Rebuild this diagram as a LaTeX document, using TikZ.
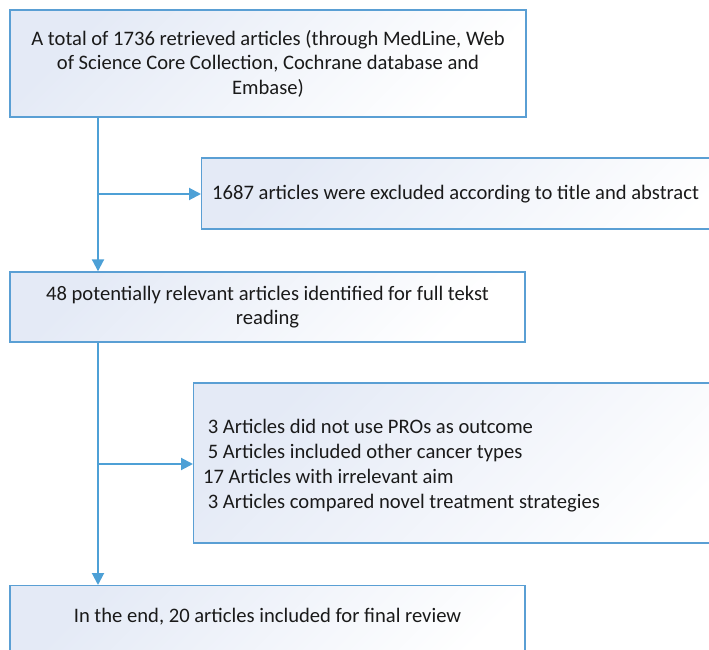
\documentclass[tikz,border=0pt]{standalone}
\usepackage{fontspec}
\setmainfont{Carlito}
\usetikzlibrary{arrows.meta}
\definecolor{bord}{HTML}{5A9FD4}
\definecolor{conn}{HTML}{4DA0D6}
\definecolor{shadeA}{HTML}{E4EAF6}
\definecolor{ink}{HTML}{1A1A1A}
\begin{document}
\begin{tikzpicture}[x=1pt,y=-1pt,
  every node/.style={font=\fontsize{20.6}{24.5}\selectfont, text=ink},
  box/.style={rectangle, draw=bord, line width=1.4pt, top color=shadeA, bottom color=white, shading angle=45, inner sep=0pt},
  link/.style={draw=conn, line width=2pt},
  arr/.style={link, -{Triangle[length=12pt,width=12pt]}}]
\useasboundingbox (0,0) rectangle (709,650);
\clip (0,0) rectangle (709,650);

\node[box, minimum width=516pt, minimum height=107pt, align=center] (top) at (268,63.5)
  {A total of 1736 retrieved articles (through MedLine, Web\\of Science Core Collection, Cochrane database and\\Embase)};

\node[box, anchor=west, minimum width=570pt, minimum height=71pt] (ex1) at (201,193.5) {};
\node[anchor=west, inner sep=0pt] (ex1text) at (212,194)
  {1687 articles were excluded according to title and abstract};

\node[box, minimum width=515pt, minimum height=70pt, align=center] (mid) at (267.5,307)
  {48 potentially relevant articles identified for full tekst\\reading};

\node[box, anchor=west, minimum width=570pt, minimum height=160pt] (ex2) at (193,463) {};
\node[anchor=west, inner sep=0pt, align=left, font=\fontsize{20.6}{25}\selectfont] (ex2text) at (203,465.5)
  {\hspace*{0.226em}3 Articles did not use PROs as outcome\\
   \hspace*{0.226em}5 Articles included other cancer types\\
   17 Articles with irrelevant aim\\
   \hspace*{0.226em}3 Articles compared novel treatment strategies};

\node[box, anchor=north, minimum width=515pt, minimum height=100pt] (fin) at (267.5,585) {};
\node (fintext) at (267.5,617) {In the end, 20 articles included for final review};

\coordinate (j1) at (98,194);
\coordinate (j2) at (98,464);
\draw[arr] (top.south -| j1) -- (mid.north -| j1);
\draw[arr] (j1) -- (j1 -| ex1.west);
\draw[arr] (mid.south -| j2) -- (fin.north -| j2);
\draw[arr] (j2) -- (j2 -| ex2.west);
\end{tikzpicture}
\end{document}
